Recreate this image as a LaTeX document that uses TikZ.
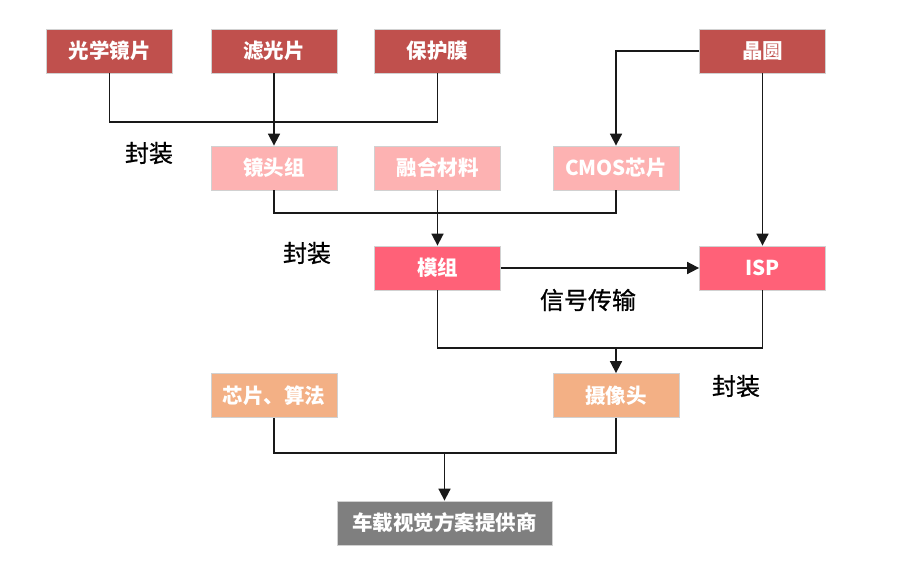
\documentclass[tikz,border=0pt]{standalone}
\usepackage{fontspec}
\newfontfamily\cjk{Noto Sans CJK SC}
\newfontfamily\cjklbl[FakeBold=0.8]{Noto Sans CJK SC}
\usetikzlibrary{arrows.meta}
\definecolor{darkred}{HTML}{C0504D}
\definecolor{lightpink}{HTML}{FDB2B2}
\definecolor{hotpink}{HTML}{FF6178}
\definecolor{peach}{HTML}{F3B085}
\definecolor{greybox}{HTML}{7F7F7F}
\tikzset{
  box/.style={draw=black!18, line width=0.8pt, minimum width=126pt, minimum height=44pt,
    inner sep=0pt, text=white, font=\cjk\bfseries\fontsize{20.5}{20.5}\selectfont},
  conn/.style={line width=1.7pt, draw=black!90},
  arr/.style={conn, -{Triangle[width=12pt,length=12pt]}},
  lbl/.style={font=\cjklbl\fontsize{24}{24}\selectfont, text=black, inner sep=0pt}
}
\begin{document}
\begin{tikzpicture}[x=1pt,y=-1pt]
\useasboundingbox (0,0) rectangle (902,573);
\fill[white] (0,0) rectangle (902,573);
% row 1
\node[box, fill=darkred] (lens) at (109.5,51) {光学镜片};
\node[box, fill=darkred] (filter) at (274,51) {滤光片};
\node[box, fill=darkred] (protect) at (437.5,51) {保护膜};
\node[box, fill=darkred] (wafer) at (762.5,51) {晶圆};
% row 2
\node[box, fill=lightpink] (lensgrp) at (274,168) {镜头组};
\node[box, fill=lightpink] (fuse) at (437.5,168) {融合材料};
\node[box, fill=lightpink] (cmos) at (616,168) {CMOS芯片};
% row 3
\node[box, fill=hotpink] (module) at (437.5,268) {模组};
\node[box, fill=hotpink] (isp) at (762.5,268) {ISP};
% row 4
\node[box, fill=peach] (chipalg) at (274,395.5) {芯片、算法};
\node[box, fill=peach] (camera) at (616,395.5) {摄像头};
% row 5
\node[box, fill=greybox, minimum width=215pt] (vendor) at (444.5,523) {车载视觉方案提供商};
% labels
\node[lbl] (l1) at (149,153) {封装};
\node[lbl] (l2) at (307,253) {封装};
\node[lbl] (l3) at (588,300) {信号传输};
\node[lbl] (l4) at (736,386) {封装};
% junctions
\coordinate (j1) at (274,122);
\coordinate (j2) at (437.5,213);
\coordinate (j3) at (616,348);
\coordinate (j4) at (444.5,453);
% connectors
\draw[conn] (lens.south) |- (j1) -| (protect.south);
\draw[arr] (filter.south) -- (lensgrp.north);
\draw[arr] (wafer.west) -| (cmos.north);
\draw[arr] (wafer.south) -- (isp.north);
\draw[conn] (lensgrp.south) |- (j2) -| (cmos.south);
\draw[arr] (fuse.south) -- (module.north);
\draw[arr] (module.east) -- (isp.west);
\draw[conn] (module.south) |- (j3) -| (isp.south);
\draw[arr] (j3) -- (camera.north);
\draw[conn] (chipalg.south) |- (j4) -| (camera.south);
\draw[arr] (j4) -- (vendor.north);
\end{tikzpicture}
\end{document}
